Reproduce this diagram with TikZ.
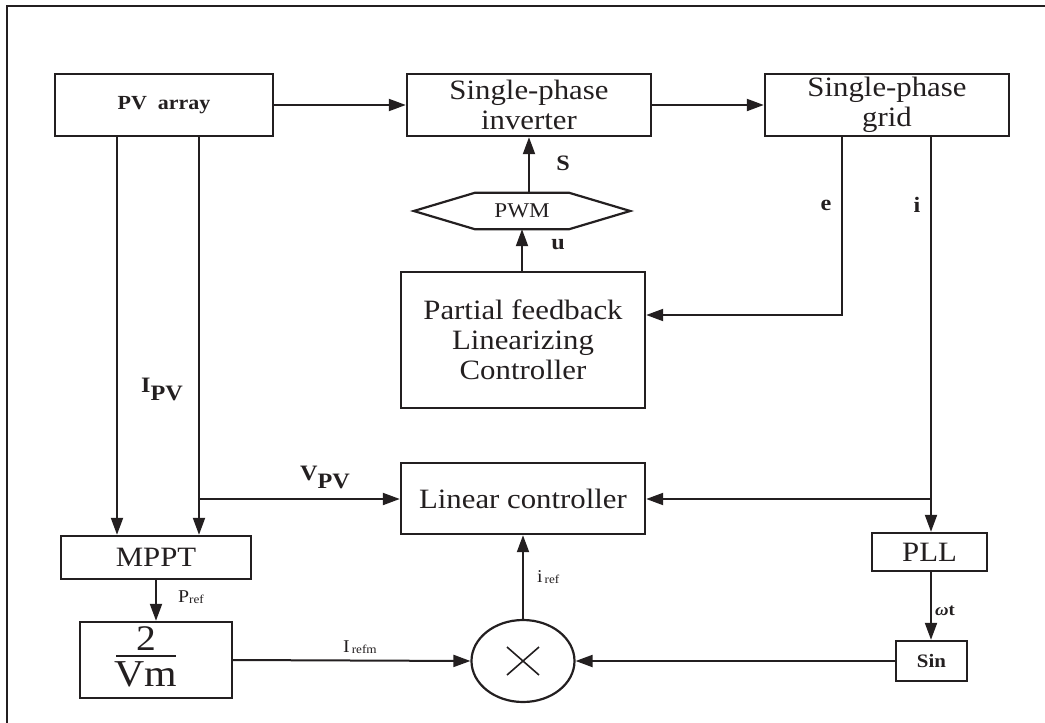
\documentclass[tikz,border=0pt]{standalone}
\usepackage{fontspec}
\setmainfont{Liberation Serif}[FakeStretch=1.1]
\usetikzlibrary{arrows.meta,calc,shapes.geometric}
\definecolor{ink}{RGB}{35,31,32}
\begin{document}
\begin{tikzpicture}[x=1pt,y=-1pt,
  every node/.style={text=ink},
  blk/.style={draw=ink,line width=2.4pt,inner sep=0pt,align=center,font=\fontsize{28}{30}\selectfont},
  conn/.style={draw=ink,line width=2pt},
  arr/.style={conn,-{Triangle[length=17pt,width=12pt]}},
  blab/.style={font=\fontsize{22}{24}\selectfont\bfseries,inner sep=0pt},
  slab/.style={font=\fontsize{18}{20}\selectfont,inner sep=0pt}]
\useasboundingbox (0,0) rectangle (1045,723);
\draw[ink,line width=2.4pt] (7,723) -- (7,6) -- (1045,6);

% blocks
\node[blk,minimum width=218pt,minimum height=62pt] (pv) at (164,105) {\fontsize{20}{22}\selectfont\bfseries PV\ \ array};
\node[blk,minimum width=244pt,minimum height=62pt] (inv) at (529,105) {Single-phase\\inverter};
\node[blk,minimum width=244pt,minimum height=62pt] (grid) at (887,105) {Single-phase\\grid};
\node[inner sep=0pt,minimum width=94pt,minimum height=36pt,font=\fontsize{21}{23}\selectfont] (pwm) at (522,211) {PWM};
\draw[ink,line width=2.2pt] (pwm.north west) -- (pwm.north east) -- ($(pwm.east)+(61,0)$) -- (pwm.south east) -- (pwm.south west) -- ($(pwm.west)+(-61,0)$) -- cycle;
\node[blk,minimum width=244pt,minimum height=136pt] (pfl) at (523,340) {Partial feedback\\Linearizing\\Controller};
\node[blk,minimum width=244pt,minimum height=71pt] (lin) at (523,498.5) {Linear controller};
\node[blk,minimum width=190pt,minimum height=43pt] (mppt) at (156,557.5) {MPPT};
\node[blk,minimum width=152pt,minimum height=76pt] (frac) at (156,660) {};
\node[inner sep=0pt,font=\fontsize{36}{36}\selectfont,anchor=base] (fnum) at (146,650) {2};
\node[inner sep=0pt,font=\fontsize{38}{38}\selectfont,anchor=base] (fden) at (146,686) {Vm};
\draw[ink,line width=2pt] (116,656) -- (176,656);
\node[draw=ink,line width=2.2pt,ellipse,minimum width=103pt,minimum height=82pt,inner sep=0pt] (mult) at (523,661) {};
\draw[ink,line width=1.6pt] ($(mult.center)+(-16,-14)$) -- ($(mult.center)+(16,14)$);
\draw[ink,line width=1.6pt] ($(mult.center)+(-16,14)$) -- ($(mult.center)+(16,-14)$);
\node[blk,minimum width=115pt,minimum height=38pt] (pll) at (929.5,552) {PLL};
\node[blk,minimum width=71pt,minimum height=40pt] (sin) at (931.5,661) {\fontsize{19}{21}\selectfont\bfseries Sin};

% helper coordinates
\coordinate (ec) at (842,315);
\coordinate (ic) at (931,499);
\coordinate (pa) at (117,0);
\coordinate (pb) at (199,499);

% connectors
\draw[arr] (pv.east) -- (inv.west);
\draw[arr] (inv.east) -- (grid.west);
\draw[arr] (inv.south |- pwm.north) -- (inv.south);
\draw[arr] (pfl.north -| pwm.south) -- (pwm.south);
\draw[arr] (grid.south -| ec) -- (ec) -- (pfl.east |- ec);
\draw[arr] (grid.south -| ic) -- (pll.north -| ic);
\draw[arr] (ic) -- (lin.east |- ic);
\draw[arr] (pv.south -| pa) -- (mppt.north -| pa);
\draw[arr] (pv.south -| pb) -- (mppt.north -| pb);
\draw[arr] (pb) -- (lin.west |- pb);
\draw[arr] (mppt.south) -- (frac.north);
\draw[arr] (frac.east) -- (mult.west);
\draw[arr] (sin.west) -- (mult.east);
\draw[arr] (mult.north) -- (lin.south);
\draw[arr] (pll.south -| ic) -- (sin.north -| ic);

% labels
\node[blab] (lS) at (563,163) {S};
\node[blab] (lu) at (558,245) {u};
\node[blab] (le) at (826,205) {e};
\node[blab] (li) at (917,205) {i};
\node[blab,anchor=base west] (lipv) at (141,392) {I\raisebox{-8pt}{PV}};
\node[blab,anchor=base west] (lvpv) at (300,480) {V\raisebox{-8pt}{PV}};
\node[slab,anchor=base west] (lpref) at (178,602) {P{\fontsize{12}{13}\selectfont\raisebox{-1.5pt}{ref}}};
\node[slab,anchor=base west] (lirefm) at (343,652) {I{\fontsize{12}{13}\selectfont\raisebox{-1.5pt}{\,refm}}};
\node[slab,anchor=base west] (liref) at (537,582) {i{\fontsize{12}{13}\selectfont\raisebox{-1.5pt}{\,ref}}};
\node[font=\fontsize{17}{19}\selectfont\bfseries,inner sep=0pt,anchor=base west] (lwt) at (935,615) {\textit{ω}t};
\end{tikzpicture}
\end{document}
